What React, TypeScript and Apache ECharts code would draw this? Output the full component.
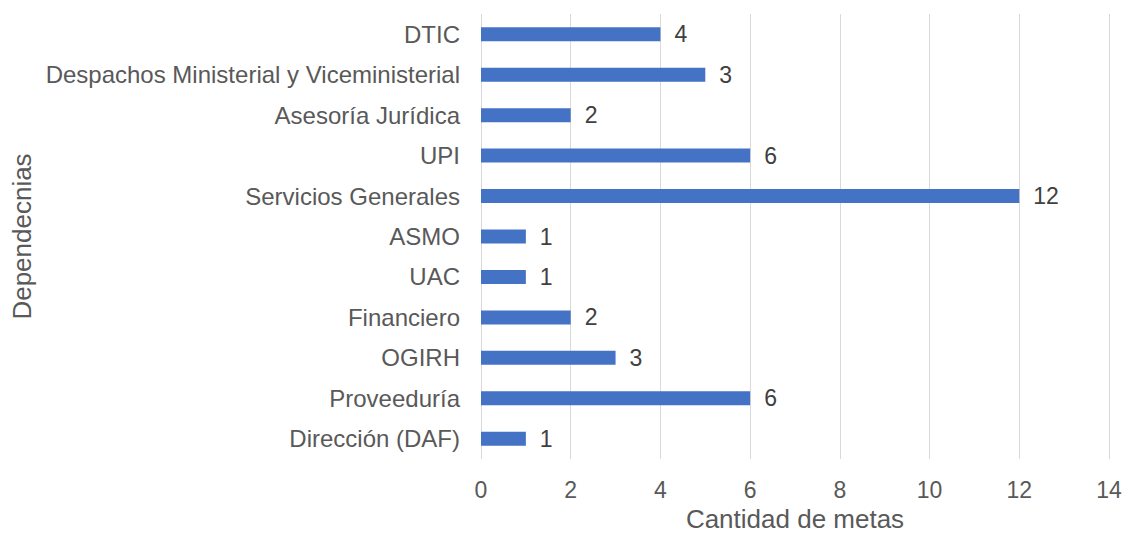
import React, { useEffect, useRef } from "react";
import * as echarts from "echarts";

const categories = [
  "DTIC",
  "Despachos Ministerial y Viceministerial",
  "Asesoría Jurídica",
  "UPI",
  "Servicios Generales",
  "ASMO",
  "UAC",
  "Financiero",
  "OGIRH",
  "Proveeduría",
  "Dirección (DAF)",
];
const barValues = [4, 5, 2, 6, 12, 1, 1, 2, 3, 6, 1];
const labelValues = ["4", "3", "2", "6", "12", "1", "1", "2", "3", "6", "1"];
const xTicks = [0, 2, 4, 6, 8, 10, 12, 14];

export default function App() {
  const ref = useRef<HTMLDivElement>(null);
  useEffect(() => {
    if (!ref.current) return;
    const chart = echarts.init(ref.current, undefined, { renderer: "svg" });
    const font = "'Liberation Sans', Arial, sans-serif";
    chart.setOption({
      animation: false,
      textStyle: { fontFamily: font },
      grid: {
        left: 481,
        right: 14,
        top: 14,
        bottom: 76,
        containLabel: false,
        outerBoundsMode: "none",
      },
      xAxis: {
        type: "value",
        min: xTicks[0],
        max: xTicks[xTicks.length - 1],
        interval: 2,
        axisLine: { show: false },
        axisTick: { show: false },
        splitLine: { show: true, lineStyle: { color: "#d9d9d9", width: 1 } },
        axisLabel: { color: "#595959", fontSize: 23, margin: 19, fontFamily: font },
        name: "Cantidad de metas",
        nameLocation: "middle",
        nameGap: 47,
        nameTextStyle: { color: "#595959", fontSize: 26, lineHeight: 26, fontFamily: font },
      },
      yAxis: {
        type: "category",
        inverse: true,
        data: categories,
        axisLine: { show: false },
        axisTick: { show: false },
        splitLine: { show: false },
        axisLabel: { color: "#595959", fontSize: 24, margin: 21, fontFamily: font },
        name: "Dependecnias",
        nameLocation: "middle",
        nameGap: 438,
        nameRotate: 90,
        nameTextStyle: { color: "#595959", fontSize: 26, fontFamily: font },
      },
      series: [
        {
          type: "bar",
          data: barValues,
          barWidth: 14,
          itemStyle: { color: "#4472c4" },
          label: {
            show: true,
            position: "right",
            distance: 14,
            color: "#404040",
            fontSize: 23,
            fontFamily: font,
            formatter: (p: any) => labelValues[p.dataIndex],
          },
        },
      ],
    });
    return () => chart.dispose();
  }, []);
  return (
    <div
      ref={ref}
      style={{ position: "absolute", left: 0, top: 0, width: 1123, height: 535, background: "#fff" }}
    />
  );
}
